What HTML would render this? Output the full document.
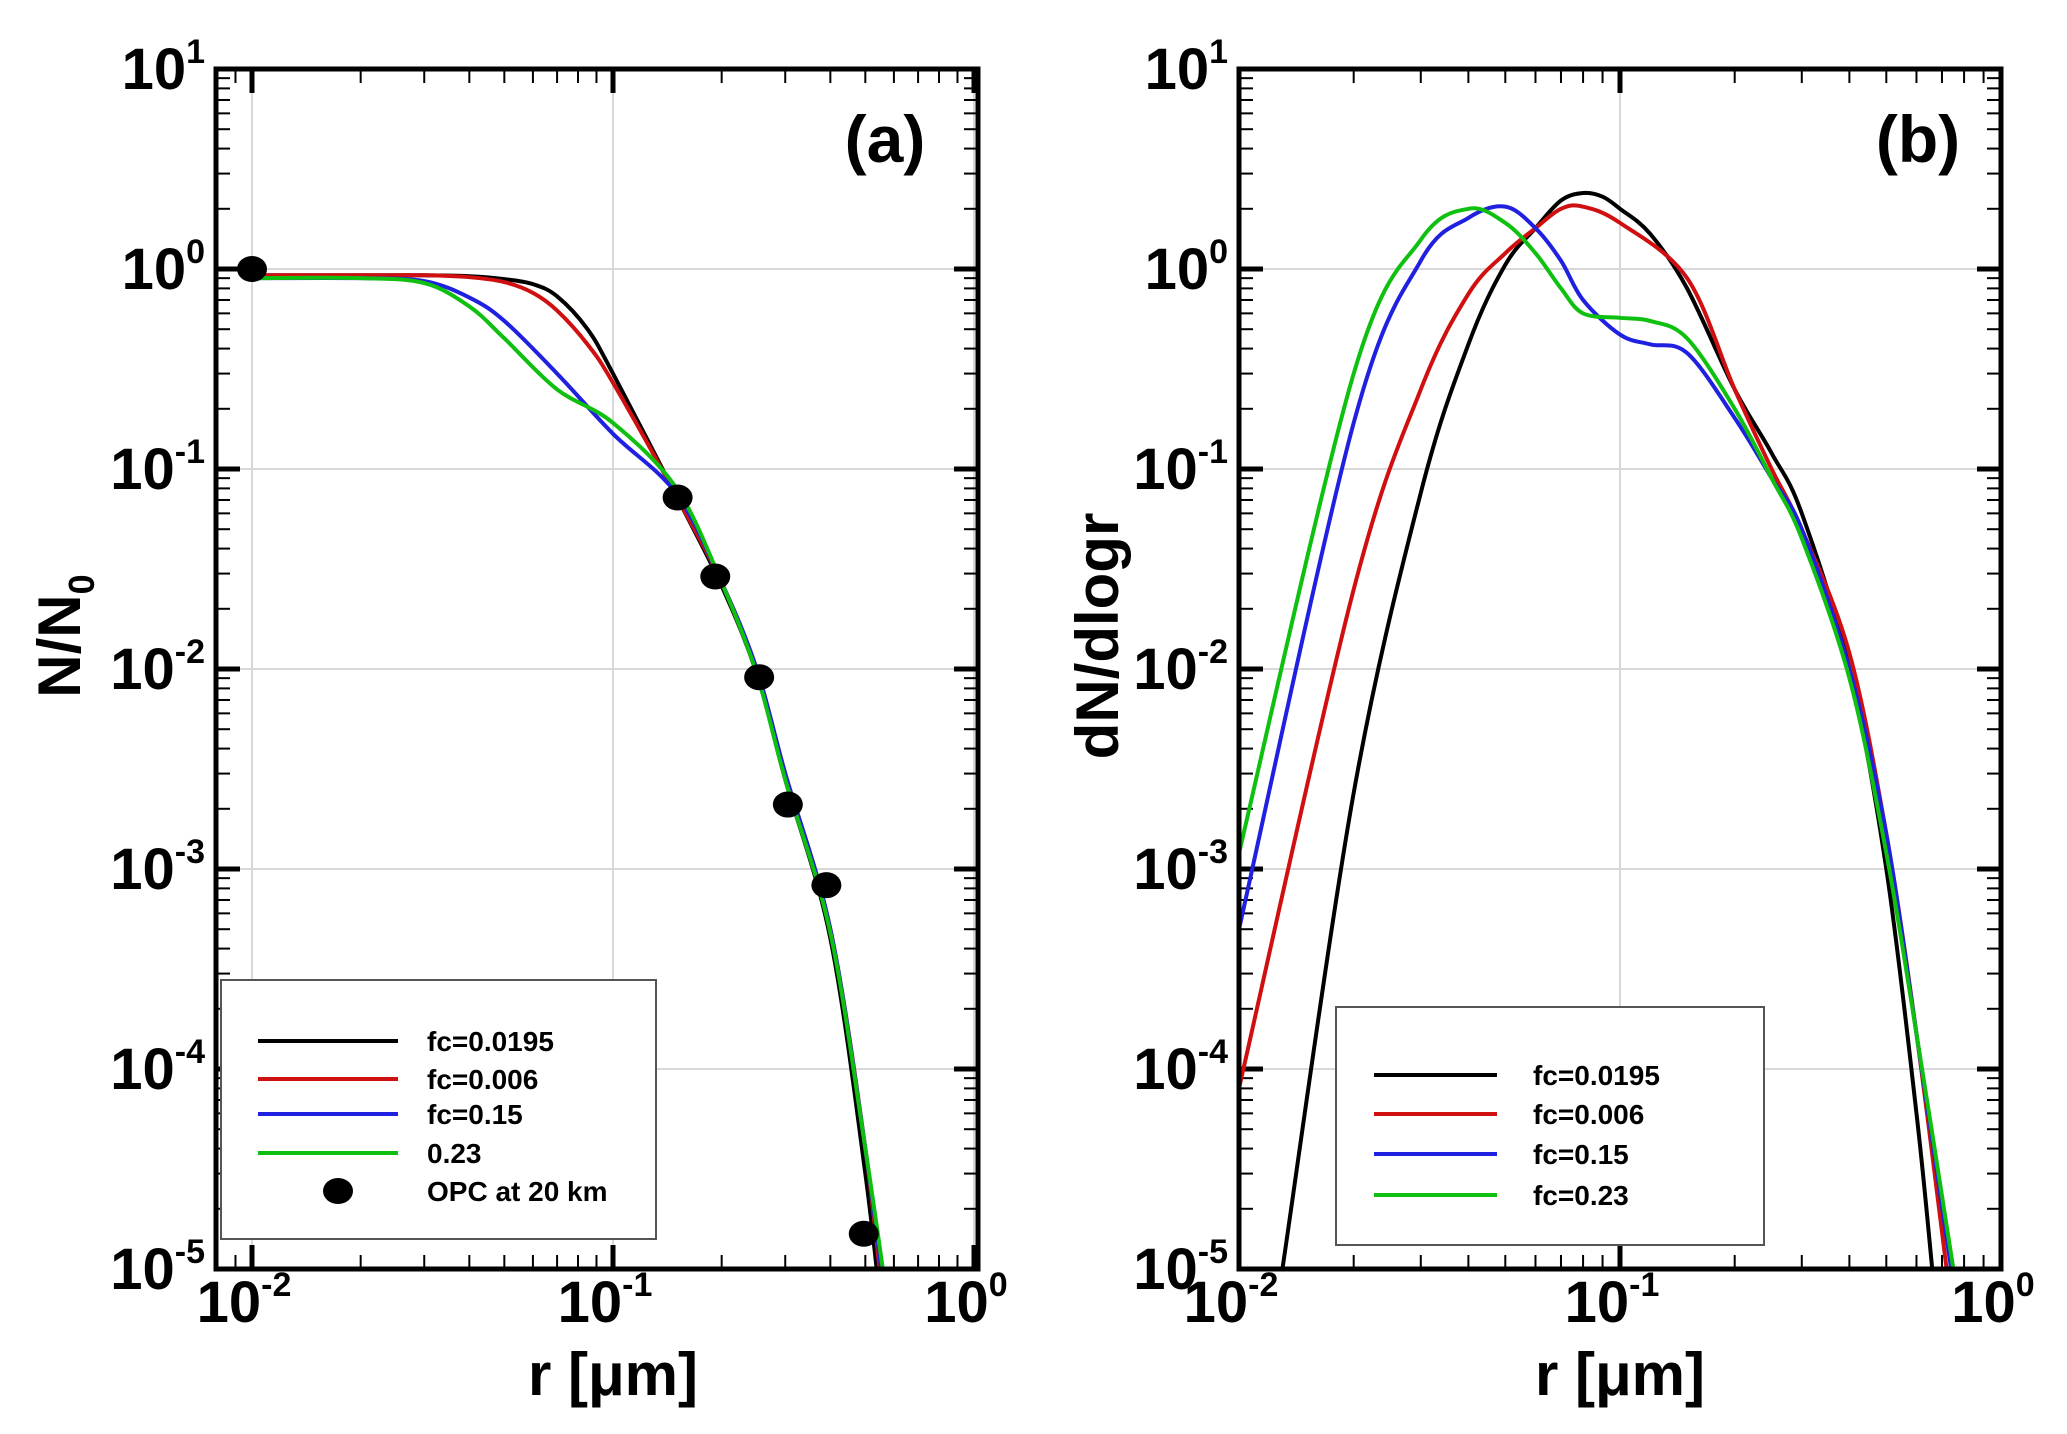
<!DOCTYPE html>
<html><head><meta charset="utf-8"><style>
html,body{margin:0;padding:0;background:#fff}
svg{display:block;font-family:"Liberation Sans",Arial,sans-serif;font-weight:bold}
</style></head><body>
<svg id="fig" width="2067" height="1434" viewBox="0 0 2067 1434" xmlns="http://www.w3.org/2000/svg"></svg>
<script>
// ---- data ----
const seriesNames = ["fc=0.0195","fc=0.006","fc=0.15","0.23"];
const seriesNamesB = ["fc=0.0195","fc=0.006","fc=0.15","fc=0.23"];
const colors = ["#000000","#d01010","#2020e0","#10c010"];
const yTickExps = [1,0,-1,-2,-3,-4,-5];
const xTickExps = [-2,-1,0];
// panel a: N/N0
const aBlackR = [0.01,0.02,0.03,0.04,0.05,0.06,0.07,0.085,0.1,0.15,0.2,0.25,0.3,0.4,0.5,0.56];
const aBlackV = [0.93,0.93,0.93,0.92,0.89,0.84,0.73,0.5,0.3,0.073,0.026,0.0095,0.0028,0.00045,0.00003,0.000005];
const aRedR = [0.01,0.02,0.03,0.04,0.05,0.06,0.07,0.085,0.1,0.15,0.2,0.25,0.3,0.4,0.5,0.57];
const aRedV = [0.93,0.93,0.93,0.91,0.86,0.76,0.62,0.42,0.27,0.073,0.027,0.01,0.003,0.0005,0.00004,0.000005];
const aBlueR = [0.01,0.02,0.03,0.04,0.05,0.07,0.1,0.15,0.2,0.25,0.3,0.4,0.5,0.58];
const aBlueV = [0.9,0.9,0.87,0.72,0.55,0.3,0.15,0.075,0.027,0.01,0.003,0.0005,0.00004,0.000005];
const aGreenR = [0.01,0.02,0.03,0.04,0.05,0.07,0.1,0.15,0.2,0.25,0.3,0.4,0.5,0.59];
const aGreenV = [0.9,0.9,0.85,0.65,0.45,0.25,0.17,0.08,0.027,0.0095,0.0028,0.00048,0.00004,0.000005];
const opcR = [0.01,0.151,0.192,0.254,0.305,0.39,0.495];
const opcV = [1.0,0.072,0.029,0.0091,0.0021,0.00083,0.000015];
// panel b: dN/dlogr
const bBlackR = [0.013,0.02,0.03,0.04,0.05,0.06,0.07,0.08,0.09,0.1,0.12,0.15,0.2,0.25,0.3,0.4,0.5,0.6,0.66];
const bBlackV = [0.00001,0.0024,0.076,0.42,1.05,1.6,2.2,2.4,2.3,2.0,1.5,0.8,0.25,0.12,0.06,0.01,0.001,0.00006,0.00001];
const bRedR = [0.01,0.02,0.03,0.04,0.05,0.06,0.07,0.08,0.1,0.15,0.2,0.25,0.3,0.4,0.5,0.6,0.72];
const bRedV = [0.00008,0.025,0.25,0.75,1.2,1.6,2.0,2.05,1.7,0.9,0.25,0.1,0.05,0.012,0.0015,0.00015,0.00001];
const bBlueR = [0.01,0.02,0.03,0.04,0.05,0.06,0.07,0.08,0.1,0.12,0.15,0.2,0.25,0.3,0.4,0.5,0.6,0.74];
const bBlueV = [0.0005,0.17,1.1,1.8,2.05,1.6,1.1,0.7,0.47,0.42,0.38,0.18,0.09,0.05,0.01,0.0015,0.00015,0.00001];
const bGreenR = [0.01,0.02,0.03,0.04,0.05,0.06,0.07,0.08,0.1,0.12,0.15,0.2,0.25,0.3,0.4,0.5,0.6,0.75];
const bGreenV = [0.0012,0.3,1.4,2.0,1.7,1.2,0.8,0.6,0.57,0.55,0.45,0.2,0.09,0.045,0.009,0.0012,0.00015,0.00001];

const NS="http://www.w3.org/2000/svg";
const svg=document.getElementById('fig');
function mk(tag,attrs,parent){const e=document.createElementNS(NS,tag);for(const k in attrs)e.setAttribute(k,attrs[k]);(parent||svg).appendChild(e);return e;}

function makePanel(p){
  const g=mk('g',{});
  
  
  const X=v=>p.x0+(Math.log10(v)+2)*p.dec;
  const Y=v=>p.yTop+(1-Math.log10(v))*200;
  const L=p.left,R=p.right,T=p.yTop,B=p.yTop+1200;
  const clipId='clip'+p.id;
  const cp=mk('clipPath',{id:clipId},g);mk('rect',{x:L,y:T,width:R-L,height:B-T},cp);
  const grid=mk('g',{stroke:'#d8d8d8','stroke-width':2},g);
  
  yTickExps.forEach(e=>{const y=Y(Math.pow(10,e));mk('line',{x1:L,x2:R,y1:y,y2:y},grid);});
  xTickExps.forEach(e=>{const x=X(Math.pow(10,e));if(x>L&&x<R)mk('line',{x1:x,x2:x,y1:T,y2:B},grid);});
  const tk=mk('g',{stroke:'#000'},g);
  for(let e=-5;e<1;e++)for(let m=2;m<10;m++){const y=Y(m*Math.pow(10,e));
    mk('line',{x1:L,x2:L+14,y1:y,y2:y,'stroke-width':2},tk);mk('line',{x1:R-14,x2:R,y1:y,y2:y,'stroke-width':2},tk);}
  for(let e=-3;e<0;e++)for(let m=2;m<10;m++){const x=X(m*Math.pow(10,e));if(x<=L||x>=R)continue;
    mk('line',{x1:x,x2:x,y1:B-14,y2:B,'stroke-width':2},tk);mk('line',{x1:x,x2:x,y1:T,y2:T+14,'stroke-width':2},tk);}
  yTickExps.forEach(e=>{const y=Y(Math.pow(10,e));mk('line',{x1:L,x2:L+24,y1:y,y2:y,'stroke-width':5},tk);mk('line',{x1:R-24,x2:R,y1:y,y2:y,'stroke-width':5},tk);});
  xTickExps.forEach(e=>{const x=X(Math.pow(10,e));if(x>L+3&&x<R-3){mk('line',{x1:x,x2:x,y1:B-24,y2:B,'stroke-width':5},tk);mk('line',{x1:x,x2:x,y1:T,y2:T+24,'stroke-width':5},tk);}});
  yTickExps.forEach(e=>{const t=mk('text',{x:p.yLabX,y:Y(Math.pow(10,e))+20,'text-anchor':'end','font-size':58},g);
    
    t.textContent='10';const s=mk('tspan',{'font-size':34,dy:-26},t);s.textContent=String(e);});
  xTickExps.forEach(e=>{const t=mk('text',{x:X(Math.pow(10,e))-8,y:1322,'text-anchor':'middle','font-size':58},g);
    
    t.textContent='10';const s=mk('tspan',{'font-size':34,dy:-26},t);s.textContent=String(e);});
  const lg=mk('g',{'clip-path':'url(#'+clipId+')'},g);
  p.series.forEach((s,i)=>{
    const pts=s.r.map((r,j)=>[X(r),Y(s.v[j])]);
    let d='M'+pts[0][0]+','+pts[0][1];
    for(let j=0;j<pts.length-1;j++){const p0=pts[Math.max(0,j-1)],p1=pts[j],p2=pts[j+1],p3=pts[Math.min(pts.length-1,j+2)];
      d+=' C'+(p1[0]+(p2[0]-p0[0])/6)+','+(p1[1]+(p2[1]-p0[1])/6)+' '+(p2[0]-(p3[0]-p1[0])/6)+','+(p2[1]-(p3[1]-p1[1])/6)+' '+p2[0]+','+p2[1];}
    const path=mk('path',{d:d,fill:'none',stroke:colors[i],'stroke-width':4},lg);
    
    
  });
  if(p.opc){opcR.forEach((r,j)=>{const c=mk('ellipse',{cx:X(r),cy:Y(opcV[j]),rx:15,ry:13,fill:'#000'},g);
    });}
  const fr=mk('rect',{x:L,y:T,width:R-L,height:B-T,fill:'none',stroke:'#000','stroke-width':5},g);
  
  const lgB=mk('g',{},g);
  
  mk('rect',{x:p.lg.x,y:p.lg.y,width:p.lg.w,height:p.lg.h,fill:'#fff',stroke:'#555','stroke-width':2},lgB);
  p.lg.names.forEach((n,i)=>{const y=p.lg.rows[i];
    const ent=mk('g',{},lgB);
    if(i<4)mk('line',{x1:p.lg.lx1,x2:p.lg.lx2,y1:y,y2:y,stroke:colors[i],'stroke-width':4},ent);
    else mk('ellipse',{cx:(p.lg.lx1+p.lg.lx2)/2+10,cy:y,rx:15,ry:13,fill:'#000'},ent);
    const t=mk('text',{x:p.lg.tx,y:y+10,'font-size':28},ent);t.textContent=n;});
  const pl=mk('text',{x:p.tagX,y:162,'text-anchor':'middle','font-size':66},g);pl.textContent=p.tag;
  
  const xt=mk('text',{x:(X(0.01)+X(1))/2,y:1395,'text-anchor':'middle','font-size':60},g);
  
  xt.textContent='r [\u03bcm]';
  const yt=mk('text',{x:0,y:0,'text-anchor':'middle','font-size':60,transform:'translate('+p.ytX+',636) rotate(-90)'},g);
  
  if(p.opc){yt.textContent='N/N';const s=mk('tspan',{'font-size':36,dy:14},yt);s.textContent='0';}
  else yt.textContent='dN/dlogr';
}
makePanel({id:'a',name:'panel-a',x0:252,dec:361,left:216,right:978,yTop:69,yLabX:205,opc:true,tag:'(a)',tagX:885,ytX:80,
  series:[{r:aBlackR,v:aBlackV},{r:aRedR,v:aRedV},{r:aBlueR,v:aBlueV},{r:aGreenR,v:aGreenV}],
  lg:{x:221,y:980,w:435,h:259,lx1:258,lx2:398,tx:427,rows:[1041,1079,1114,1153,1191],names:seriesNames.concat(['OPC at 20 km'])}});
makePanel({id:'b',name:'panel-b',x0:1239,dec:381,left:1239,right:2001,yTop:69,yLabX:1228,opc:false,tag:'(b)',tagX:1918,ytX:1118,
  series:[{r:bBlackR,v:bBlackV},{r:bRedR,v:bRedV},{r:bBlueR,v:bBlueV},{r:bGreenR,v:bGreenV}],
  lg:{x:1336,y:1007,w:428,h:238,lx1:1374,lx2:1497,tx:1533,rows:[1075,1114,1154,1195],names:seriesNamesB}});
</script>
</body></html>
